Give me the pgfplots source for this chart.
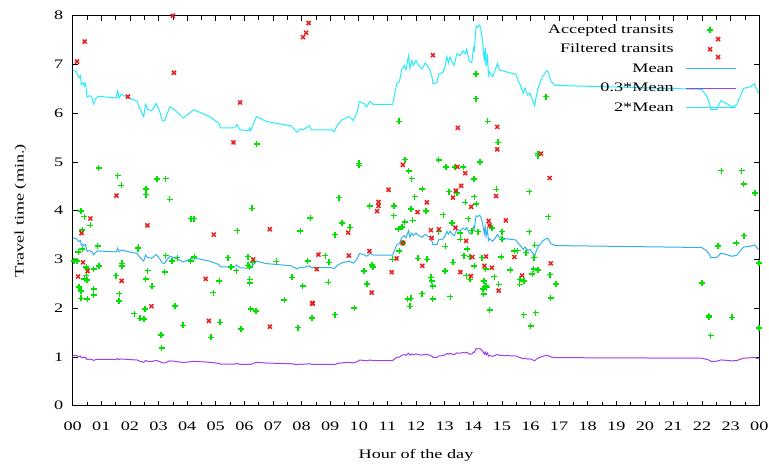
\documentclass[border=0pt]{standalone}
\usepackage{fontspec}
\setmainfont{Liberation Serif}[FakeStretch=1.4]
\usepackage{pgfplots}
\usepackage{pgfplotstable}
\pgfplotsset{compat=1.18}
\definecolor{cmean}{RGB}{50,178,230}
\definecolor{clow}{RGB}{160,64,232}
\definecolor{chigh}{RGB}{40,235,250}
\definecolor{cacc}{RGB}{0,225,0}
\definecolor{cfil}{RGB}{235,30,30}
\pgfdeclareplotmark{gplus}{%
  \pgfsetcolor{cacc}\pgfsetlinewidth{1.5bp}%
  \pgfpathmoveto{\pgfqpoint{-\pgfplotmarksize}{0pt}}\pgfpathlineto{\pgfqpoint{\pgfplotmarksize}{0pt}}%
  \pgfpathmoveto{\pgfqpoint{0pt}{-\pgfplotmarksize}}\pgfpathlineto{\pgfqpoint{0pt}{\pgfplotmarksize}}%
  \pgfusepathqstroke}
\pgfdeclareplotmark{rcross}{%
  \pgfsetcolor{cfil}\pgfsetlinewidth{1.5bp}%
  \pgfpathmoveto{\pgfqpoint{-\pgfplotmarksize}{-\pgfplotmarksize}}\pgfpathlineto{\pgfqpoint{\pgfplotmarksize}{\pgfplotmarksize}}%
  \pgfpathmoveto{\pgfqpoint{-\pgfplotmarksize}{\pgfplotmarksize}}\pgfpathlineto{\pgfqpoint{\pgfplotmarksize}{-\pgfplotmarksize}}%
  \pgfusepathqstroke}
\pgfplotsset{
  lineleg/.style={legend image code/.code={\path (0bp,0bp) (50bp,0bp); \draw[##1] (0bp,0bp) -- (50bp,0bp);}},
  markleg/.style={legend image code/.code={\path (0bp,0bp) (50bp,0bp); \draw[##1] plot coordinates {(24bp,0bp)};}},
}

\pgfplotstableread{
h m l t
0.00 3.445 1.034 6.89
0.13 3.425 1.028 6.85
0.21 3.365 1.010 6.73
0.27 3.385 1.016 6.77
0.30 3.290 0.987 6.58
0.36 3.315 0.995 6.63
0.41 3.280 0.984 6.56
0.45 3.305 0.992 6.61
0.50 3.165 0.950 6.33
0.59 3.180 0.954 6.36
0.67 3.160 0.948 6.32
0.73 3.095 0.929 6.19
0.80 3.145 0.944 6.29
0.88 3.175 0.953 6.35
1.52 3.155 0.947 6.31
1.57 3.230 0.969 6.46
1.62 3.155 0.947 6.31
1.70 3.195 0.959 6.39
1.87 3.170 0.951 6.34
2.05 3.145 0.944 6.29
2.25 3.125 0.938 6.25
2.34 3.050 0.915 6.10
2.48 2.965 0.890 5.93
2.55 3.090 0.927 6.18
2.62 3.040 0.912 6.08
2.76 3.025 0.908 6.05
2.92 3.100 0.930 6.20
3.06 3.000 0.900 6.00
3.13 2.925 0.878 5.85
3.21 2.920 0.876 5.84
3.39 3.065 0.920 6.13
3.56 3.035 0.911 6.07
3.86 2.950 0.885 5.90
4.23 3.035 0.911 6.07
4.79 2.965 0.890 5.93
5.11 2.895 0.869 5.79
5.16 2.850 0.855 5.70
5.66 2.850 0.855 5.70
5.74 2.885 0.866 5.77
5.84 2.830 0.849 5.66
6.13 2.820 0.846 5.64
6.19 2.850 0.855 5.70
6.22 2.820 0.846 5.64
6.30 2.880 0.864 5.76
6.42 2.965 0.890 5.93
6.77 2.915 0.875 5.83
7.64 2.870 0.861 5.74
7.84 2.805 0.842 5.61
7.96 2.840 0.852 5.68
8.05 2.830 0.849 5.66
8.27 2.870 0.861 5.74
8.35 2.830 0.849 5.66
9.05 2.830 0.849 5.66
9.15 2.810 0.843 5.62
9.23 2.870 0.861 5.74
9.40 2.930 0.879 5.86
9.67 2.965 0.890 5.93
9.81 2.925 0.878 5.85
9.95 3.015 0.905 6.03
10.02 3.120 0.936 6.24
10.18 3.100 0.930 6.20
10.27 3.065 0.920 6.13
10.39 3.120 0.936 6.24
10.51 3.090 0.927 6.18
11.18 3.090 0.927 6.18
11.33 3.305 0.992 6.61
11.42 3.325 0.998 6.65
11.50 3.445 1.034 6.89
11.59 3.490 1.047 6.98
11.65 3.445 1.034 6.89
11.74 3.590 1.077 7.18
11.79 3.455 1.037 6.91
11.85 3.540 1.062 7.08
11.91 3.490 1.047 6.98
12.00 3.540 1.062 7.08
12.09 3.490 1.047 6.98
12.21 3.455 1.037 6.91
12.32 3.515 1.055 7.03
12.47 3.455 1.037 6.91
12.56 3.370 1.011 6.74
12.59 3.305 0.992 6.61
12.73 3.310 0.993 6.62
12.79 3.400 1.020 6.80
12.94 3.420 1.026 6.84
13.02 3.480 1.044 6.96
13.08 3.580 1.074 7.16
13.13 3.515 1.055 7.03
13.19 3.580 1.074 7.16
13.25 3.530 1.059 7.06
13.33 3.490 1.047 6.98
13.43 3.610 1.083 7.22
13.54 3.590 1.077 7.18
13.64 3.640 1.092 7.28
13.72 3.610 1.083 7.22
13.77 3.655 1.097 7.31
13.87 3.530 1.059 7.06
13.95 3.520 1.056 7.04
14.01 3.670 1.101 7.34
14.04 3.645 1.094 7.29
14.10 3.895 1.169 7.79
14.15 3.880 1.164 7.76
14.22 3.905 1.172 7.81
14.26 3.880 1.164 7.76
14.33 3.725 1.118 7.45
14.39 3.530 1.059 7.06
14.42 3.670 1.101 7.34
14.45 3.480 1.044 6.96
14.50 3.610 1.083 7.22
14.53 3.390 1.017 6.78
14.56 3.425 1.028 6.85
14.68 3.375 1.013 6.75
14.79 3.460 1.038 6.92
14.85 3.510 1.053 7.02
14.91 3.445 1.034 6.89
15.14 3.425 1.028 6.85
15.49 3.400 1.020 6.80
15.58 3.325 0.998 6.65
15.66 3.280 0.984 6.56
15.75 3.205 0.962 6.41
15.81 3.255 0.977 6.51
15.90 3.185 0.956 6.37
15.98 3.205 0.962 6.41
16.07 3.135 0.941 6.27
16.15 3.075 0.923 6.15
16.21 3.185 0.956 6.37
16.28 3.270 0.981 6.54
16.42 3.375 1.013 6.75
16.54 3.425 1.028 6.85
16.60 3.435 1.031 6.87
16.72 3.325 0.998 6.65
16.87 3.285 0.986 6.57
21.99 3.245 0.974 6.49
22.17 3.170 0.951 6.34
22.26 3.100 0.930 6.20
22.31 3.035 0.911 6.07
22.51 3.040 0.912 6.08
22.66 3.130 0.939 6.26
22.86 3.100 0.930 6.20
23.04 3.065 0.920 6.13
23.21 3.085 0.926 6.17
23.45 3.255 0.977 6.51
23.68 3.270 0.981 6.54
23.83 3.300 0.990 6.60
23.97 3.205 0.962 6.41
}\meantable

\pgfplotstableread{
h v
0.05 2.97
0.15 2.97
0.20 3.15
0.29 3.99
0.34 3.60
0.41 3.88
0.62 3.70
0.34 3.21
0.22 2.43
0.29 2.35
0.29 2.20
0.51 2.19
0.41 2.60
0.48 2.67
0.50 2.58
0.48 2.85
0.51 2.81
0.73 2.80
0.73 2.39
0.73 2.27
0.87 3.28
0.92 2.87
0.91 4.88
1.57 4.72
1.70 4.52
1.52 2.67
1.63 2.30
1.61 2.15
1.72 2.92
1.73 2.87
2.16 1.89
2.28 3.22
2.30 3.25
2.35 1.79
2.49 1.78
2.52 1.98
2.56 4.45
2.56 4.33
2.55 2.60
2.62 2.77
2.77 2.45
2.94 4.65
3.25 4.66
3.39 4.23
3.08 1.45
3.11 1.18
3.21 2.74
3.25 3.08
3.47 2.97
3.66 3.04
3.58 2.05
3.86 1.65
4.13 3.84
4.24 3.84
4.12 2.97
4.25 3.05
4.83 1.40
4.92 2.32
5.13 2.56
5.15 1.71
5.43 3.04
5.54 2.85
5.72 2.77
5.76 3.59
5.89 1.57
6.12 3.06
6.12 2.88
6.18 2.85
6.18 2.59
6.18 2.52
6.22 1.98
6.26 4.05
6.29 2.95
6.40 1.94
6.43 5.37
7.12 2.96
7.40 2.17
7.66 2.63
7.88 1.60
7.96 3.58
8.04 2.46
8.21 2.97
8.31 3.85
8.36 1.80
8.83 3.08
8.94 2.53
8.96 2.94
9.16 1.87
9.17 3.51
9.30 4.27
9.41 3.75
9.69 3.66
9.85 2.00
10.01 4.97
10.01 4.93
10.19 2.76
10.28 2.50
10.38 4.10
10.47 2.89
10.49 2.85
11.17 3.00
11.22 3.90
11.23 4.10
11.38 3.62
11.41 5.83
11.42 3.17
11.54 3.34
11.51 3.67
11.60 3.77
11.61 5.05
11.74 4.81
11.85 4.66
11.88 3.80
11.83 4.03
11.95 4.29
11.71 2.19
11.82 2.20
11.79 2.04
12.07 3.02
12.22 4.45
12.35 3.99
12.39 3.00
12.21 2.30
12.52 2.63
12.55 2.56
12.58 2.46
12.58 2.19
12.79 5.04
12.79 3.57
12.96 3.92
13.04 4.90
13.03 3.27
13.01 2.76
13.15 4.39
13.20 2.24
13.25 3.75
13.29 2.94
13.37 4.90
13.43 4.36
13.55 3.54
13.55 3.41
13.66 4.90
13.73 4.17
13.68 3.08
13.80 3.21
13.83 3.84
13.76 2.67
13.89 2.59
13.89 3.06
13.95 3.59
14.03 4.65
14.04 4.29
14.04 2.87
14.10 6.80
14.10 6.30
14.11 4.14
14.16 3.57
14.24 5.00
14.31 3.04
14.38 2.56
14.43 2.80
14.34 2.39
14.36 2.29
14.44 2.46
14.47 2.42
14.50 5.83
14.57 1.96
14.66 3.65
14.74 2.65
14.81 4.44
14.86 5.40
14.89 2.49
15.00 3.57
15.01 3.41
14.98 3.05
15.30 2.78
15.44 3.17
15.55 3.18
15.63 2.59
15.62 2.49
15.78 2.56
15.76 1.87
15.84 3.14
15.96 4.39
15.96 3.57
16.01 1.63
16.07 2.70
16.11 2.80
16.27 2.78
16.18 1.91
16.12 3.04
16.15 3.29
16.26 5.17
16.26 5.13
16.54 6.34
16.63 3.88
16.69 2.69
16.71 2.21
16.90 2.50
22.00 2.52
22.23 1.84
22.25 1.81
22.30 1.44
22.56 3.28
22.67 4.82
23.05 1.81
23.20 3.34
23.38 4.82
23.46 3.49
23.45 4.55
23.85 4.36
23.99 2.93
23.99 1.59
}\acctable

\pgfplotstableread{
h v
0.15 7.06
0.42 7.47
0.19 2.65
0.31 3.54
0.36 2.94
0.52 2.76
0.62 3.84
1.93 6.34
1.53 4.31
1.71 2.56
2.61 3.70
2.75 2.04
3.50 8.00
3.54 6.83
4.65 2.60
4.76 1.74
4.93 3.51
5.62 5.40
5.85 6.22
6.31 3.00
6.89 3.62
6.89 1.62
8.05 7.56
8.16 7.65
8.25 7.85
8.38 2.11
8.38 2.09
8.53 2.80
8.59 3.10
9.63 3.55
9.65 3.08
10.37 3.17
10.45 2.32
10.64 3.99
10.69 4.18
10.69 4.10
11.04 4.43
11.15 2.74
11.32 3.02
11.54 4.94
11.54 3.34
12.05 3.97
12.22 2.87
12.38 4.17
12.52 3.60
12.55 3.44
12.80 3.62
12.59 7.19
13.29 4.27
13.39 4.41
13.38 3.65
13.45 4.90
13.46 5.70
13.58 4.51
13.55 2.74
13.72 4.77
13.75 3.38
13.93 4.08
13.92 2.66
13.97 3.05
14.39 2.87
14.45 3.06
14.54 3.79
14.57 3.70
14.65 2.83
14.80 4.30
14.84 5.72
14.84 5.26
14.89 2.36
15.14 3.80
15.44 3.05
15.71 2.67
16.37 5.17
16.67 4.67
16.71 2.92
22.56 7.52
22.56 7.15
}\filtable

\begin{document}
\begin{tikzpicture}[font=\fontsize{13bp}{15bp}\selectfont]
\path[use as bounding box] (-72.7bp,-60.3bp) rectangle (696.3bp,405.7bp);
\begin{axis}[
  at={(0,0)}, anchor=south west,
  width=686.6bp, height=390bp, scale only axis,
  xmin=0, xmax=24, ymin=0, ymax=8,
  xtick={0,...,24},
  xticklabels={\mbox{00},\mbox{01},\mbox{02},\mbox{03},\mbox{04},\mbox{05},\mbox{06},\mbox{07},\mbox{08},\mbox{09},\mbox{10},\mbox{11},\mbox{12},\mbox{13},\mbox{14},\mbox{15},\mbox{16},\mbox{17},\mbox{18},\mbox{19},\mbox{20},\mbox{21},\mbox{22},\mbox{23},\mbox{00}},
  minor x tick num=1,
  ytick={0,...,8},
  tick align=inside,
  major tick length=5bp, minor tick length=4bp,
  every tick/.style={black, line width=0.6bp},
  axis line style={line width=1bp},
  /pgf/number format/assume math mode=true,
  xticklabel style={yshift=-13bp},
  yticklabel style={xshift=-6bp},
  xlabel={Hour of the day},
  ylabel={Travel time (min.)},
  every axis x label/.style={at={(axis description cs:0.5,-0.128)}, anchor=center},
  every axis y label/.style={at={(axis description cs:-0.076,0.5)}, rotate=90, anchor=center},
  legend plot pos=right,
  legend cell align=right,
  legend style={draw=none, fill=none, inner sep=0pt, at={(rel axis cs:0.9675,0.985)}, anchor=north east,
    row sep=3.5bp, column sep=10bp, nodes={inner sep=1.5bp, text height=10bp, text depth=3bp}},
  lineleg,
]
\addplot[only marks, mark=gplus, mark size=3bp, color=cacc, line width=1.5bp, markleg]
  table[x=h, y=v] {\acctable};
\addlegendentry{Accepted transits}
\addplot[only marks, mark=rcross, mark size=2bp, color=cfil, line width=1.5bp, markleg]
  table[x=h, y=v] {\filtable};
\addlegendentry{Filtered transits}
\addplot[cmean, line width=1bp, no marks] table[x=h, y=m] {\meantable};
\addlegendentry{Mean}
\addplot[clow, line width=1bp, no marks] table[x=h, y=l] {\meantable};
\addlegendentry{0.3*Mean}
\addplot[chigh, line width=1bp, no marks] table[x=h, y=t] {\meantable};
\addlegendentry{2*Mean}
\end{axis}
\end{tikzpicture}
\end{document}
